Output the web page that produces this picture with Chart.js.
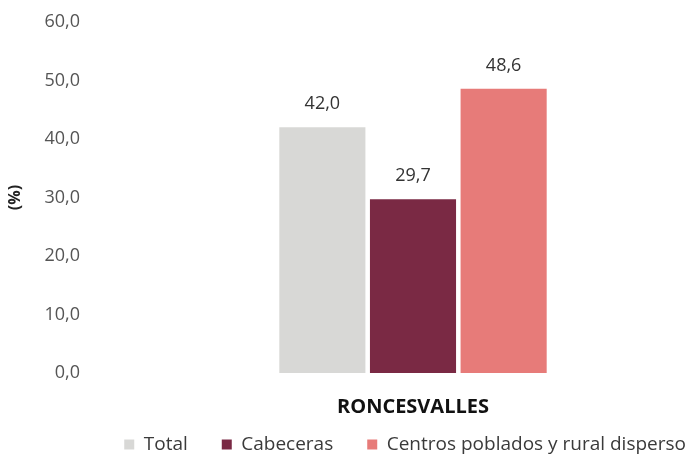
<!DOCTYPE html>
<html>
<head>
<meta charset="utf-8">
<script src="https://cdn.jsdelivr.net/npm/chart.js@4/dist/chart.umd.min.js"></script>
<style>
  html, body { margin: 0; padding: 0; background: #ffffff; }
  #wrap { width: 686px; height: 457px; }
</style>
</head>
<body>
<div id="wrap"><canvas id="chart"></canvas></div>
<script>
const categories = ['RONCESVALLES'];
const seriesNames = ['Total', 'Cabeceras', 'Centros poblados y rural disperso'];
const totalValues = [42.0];
const cabecerasValues = [29.7];
const centrosValues = [48.6];
const yTicks = [0, 10, 20, 30, 40, 50, 60];

const colors = ['#d8d8d6', '#7a2944', '#e77b79'];
const FONT = '"Open Sans", sans-serif';

const fmt = v => v.toFixed(1).replace('.', ',');

// value labels above each bar + legend nudge
const valueLabels = {
    id: 'valueLabels',
    afterLayout(chart) {
        // legend sits a bit higher / further right than Chart.js stacks it
        const lg = chart.legend;
        const h = lg.bottom - lg.top;
        lg.top = 401; lg.bottom = 401 + h;
        lg.left += 34; lg.right += 34;
    },
    afterDatasetsDraw(chart) {
        const ctx = chart.ctx;
        ctx.save();
        ctx.font = '18px ' + FONT;
        ctx.fillStyle = '#333333';
        ctx.textAlign = 'center';
        ctx.textBaseline = 'middle';
        chart.data.datasets.forEach((ds, i) => {
            chart.getDatasetMeta(i).data.forEach((bar, j) => {
                ctx.fillText(fmt(ds.data[j]), bar.x, bar.y - 23);
            });
        });
        ctx.restore();
    }
};

new Chart(document.getElementById('chart'), {
    type: 'bar',
    data: {
        labels: categories,
        datasets: [
            { label: seriesNames[0], data: totalValues, backgroundColor: colors[0] },
            { label: seriesNames[1], data: cabecerasValues, backgroundColor: colors[1] },
            { label: seriesNames[2], data: centrosValues, backgroundColor: colors[2] },
        ]
    },
    options: {
        responsive: true,
        maintainAspectRatio: false,
        animation: false,
        categoryPercentage: 0.498,
        barPercentage: 0.95,
        layout: { padding: { top: 22, right: 0, left: 6, bottom: -39 } },
        plugins: {
            tooltip: { enabled: false },
            legend: {
                display: true,
                position: 'bottom',
                align: 'end',
                labels: {
                    boxWidth: 10,
                    boxHeight: 10,
                    padding: 34,
                    color: '#3a3a3a',
                    font: { family: FONT, size: 19 }
                }
            }
        },
        scales: {
            x: {
                grid: { display: false },
                border: { display: false },
                ticks: {
                    color: '#111111',
                    padding: 14,
                    font: { family: FONT, size: 20, weight: 'bold' }
                }
            },
            y: {
                min: 0,
                max: 60,
                afterBuildTicks: axis => { axis.ticks = yTicks.map(v => ({ value: v })); },
                afterFit: axis => {
                    axis.width = 134;
                    axis.paddingTop = 0;
                    axis.paddingBottom = 0;
                },
                grid: { display: false },
                border: { display: false },
                title: {
                    display: true,
                    text: '(%)',
                    color: '#222222',
                    padding: 0,
                    font: { family: FONT, size: 16, weight: 'bold' }
                },
                ticks: {
                    padding: 52,
                    color: '#555555',
                    font: { family: FONT, size: 18 },
                    callback: v => fmt(v)
                }
            }
        }
    },
    plugins: [valueLabels]
});
</script>
</body>
</html>
